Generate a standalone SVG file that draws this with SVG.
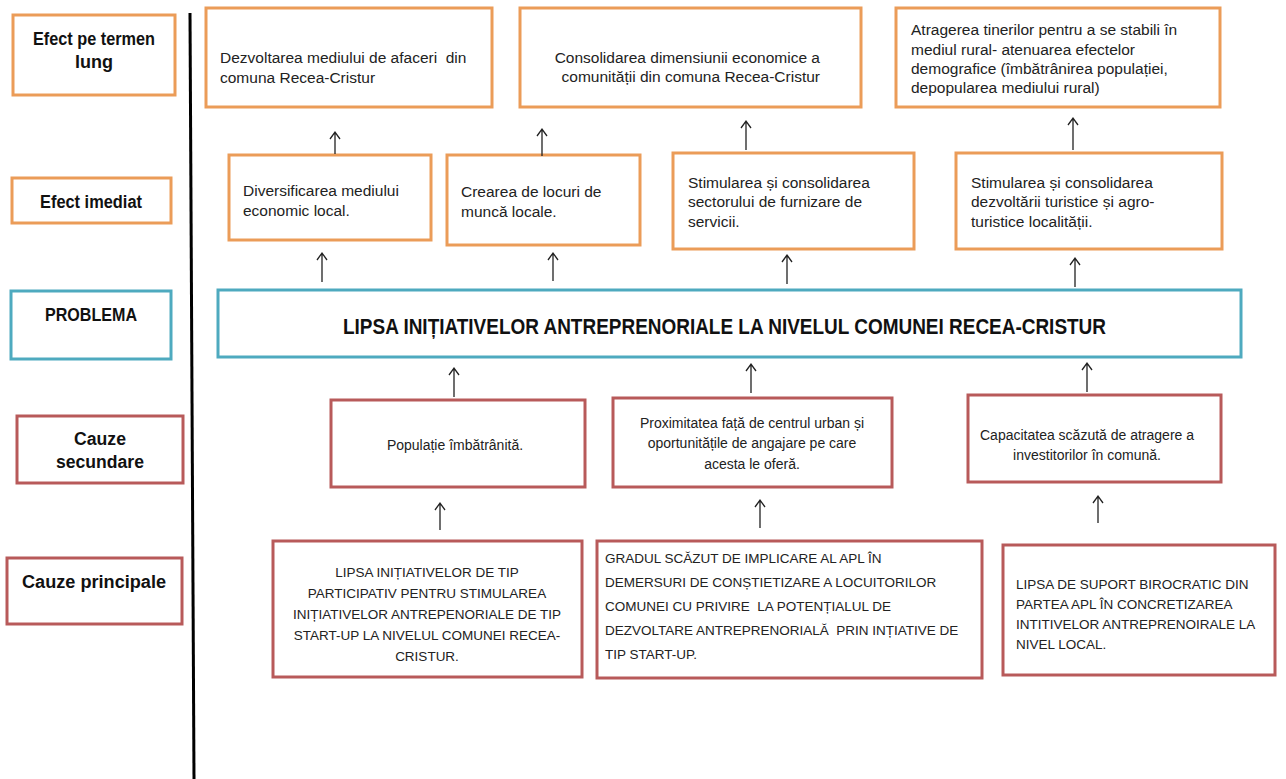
<svg xmlns="http://www.w3.org/2000/svg" width="1286" height="779" viewBox="0 0 1286 779">
<defs>
<style>
.or{fill:#fff;stroke:#eb9c58;stroke-width:3}
.tl{fill:#fff;stroke:#4eaabf;stroke-width:3}
.rd{fill:#fff;stroke:#b85a5a;stroke-width:3}
.lab{font-family:"Liberation Sans",Arial,sans-serif;font-weight:bold;font-size:18px;fill:#111;text-anchor:middle}
.t{font-family:"Liberation Sans",Arial,sans-serif;font-size:15.5px;fill:#222;white-space:pre}
.c{font-family:"Liberation Sans",Arial,sans-serif;font-size:14px;fill:#222;text-anchor:middle}
.u{font-family:"Liberation Sans",Arial,sans-serif;font-size:13.5px;fill:#222;white-space:pre}
.uc{font-family:"Liberation Sans",Arial,sans-serif;font-size:13.5px;fill:#222;text-anchor:middle}
.ttl{font-family:"Liberation Sans",Arial,sans-serif;font-weight:bold;font-size:22px;fill:#111}
.arr{stroke:#222;stroke-width:1.3;fill:none}
</style>
</defs>
<rect width="1286" height="779" fill="#fff"/>
<line x1="190" y1="13" x2="194" y2="779" stroke="#000" stroke-width="3"/>

<g id="label-efect-lung"><rect class="or" x="13" y="15" width="162" height="80"/><text class="lab" x="94" y="45" textLength="122" lengthAdjust="spacingAndGlyphs">Efect pe termen</text><text class="lab" x="94" y="68">lung</text></g>
<g id="label-efect-imediat"><rect class="or" x="12" y="178" width="159" height="45"/><text class="lab" x="91" y="208" textLength="102" lengthAdjust="spacingAndGlyphs">Efect imediat</text></g>
<g id="label-problema"><rect class="tl" x="11" y="291" width="160" height="68"/><text class="lab" x="91" y="321" textLength="92" lengthAdjust="spacingAndGlyphs">PROBLEMA</text></g>
<g id="label-cauze-sec"><rect class="rd" x="17" y="416" width="166" height="67"/><text class="lab" x="100" y="445" textLength="52" lengthAdjust="spacingAndGlyphs">Cauze</text><text class="lab" x="100" y="468" textLength="88" lengthAdjust="spacingAndGlyphs">secundare</text></g>
<g id="label-cauze-pr"><rect class="rd" x="7" y="558" width="175" height="66"/><text class="lab" x="94" y="588" textLength="144" lengthAdjust="spacingAndGlyphs">Cauze principale</text></g>

<g id="t1"><rect class="or" x="206" y="8" width="286" height="99"/><text class="t" x="220" y="63">Dezvoltarea mediului de afaceri  din</text><text class="t" x="220" y="83">comuna Recea-Cristur</text></g>
<g id="t2"><rect class="or" x="520" y="8" width="341" height="99"/><text class="t" x="820" y="63" text-anchor="end">Consolidarea dimensiunii economice a</text><text class="t" x="820" y="82" text-anchor="end">comunității din comuna Recea-Cristur</text></g>
<g id="t3"><rect class="or" x="896" y="8" width="324" height="99"/><text class="t" x="911" y="35">Atragerea tinerilor pentru a se stabili în</text><text class="t" x="911" y="55">mediul rural- atenuarea efectelor</text><text class="t" x="911" y="74">demografice (îmbătrânirea populației,</text><text class="t" x="911" y="93">depopularea mediului rural)</text></g>

<g id="e1"><rect class="or" x="229" y="155" width="202" height="85"/><text class="t" x="243" y="196">Diversificarea mediului</text><text class="t" x="243" y="216">economic local.</text></g>
<g id="e2"><rect class="or" x="447" y="155" width="193" height="90"/><text class="t" x="461" y="197">Crearea de locuri de</text><text class="t" x="461" y="217">muncă locale.</text></g>
<g id="e3"><rect class="or" x="673" y="153" width="241" height="96"/><text class="t" x="688" y="188">Stimularea și consolidarea</text><text class="t" x="688" y="207">sectorului de furnizare de</text><text class="t" x="688" y="227">servicii.</text></g>
<g id="e4"><rect class="or" x="956" y="153" width="266" height="96"/><text class="t" x="971" y="188">Stimularea și consolidarea</text><text class="t" x="971" y="207">dezvoltării turistice și agro-</text><text class="t" x="971" y="227">turistice localității.</text></g>

<g id="problema"><rect class="tl" x="218" y="290" width="1023" height="67"/><text class="ttl" x="343" y="334" textLength="763" lengthAdjust="spacingAndGlyphs">LIPSA INIȚIATIVELOR ANTREPRENORIALE LA NIVELUL COMUNEI RECEA-CRISTUR</text></g>

<g id="s1"><rect class="rd" x="331" y="400" width="254" height="87"/><text class="c" x="455" y="450">Populație îmbătrânită.</text></g>
<g id="s2"><rect class="rd" x="613" y="398" width="279" height="89"/><text class="c" x="752" y="428">Proximitatea față de centrul urban și</text><text class="c" x="752" y="448">oportunitățile de angajare pe care</text><text class="c" x="752" y="469">acesta le oferă.</text></g>
<g id="s3"><rect class="rd" x="968" y="395" width="253" height="87"/><text class="c" x="1087" y="440">Capacitatea scăzută de atragere a</text><text class="c" x="1087" y="460">investitorilor în comună.</text></g>

<g id="p1"><rect class="rd" x="273" y="541" width="309" height="136"/><text class="uc" x="427" y="577">LIPSA INIȚIATIVELOR DE TIP</text><text class="uc" x="427" y="598">PARTICIPATIV PENTRU STIMULAREA</text><text class="uc" x="427" y="619">INIȚIATIVELOR ANTREPENORIALE DE TIP</text><text class="uc" x="427" y="640">START-UP LA NIVELUL COMUNEI RECEA-</text><text class="uc" x="427" y="661">CRISTUR.</text></g>
<g id="p2"><rect class="rd" x="597" y="541" width="385" height="137"/><text class="u" x="605" y="563">GRADUL SCĂZUT DE IMPLICARE AL APL ÎN</text><text class="u" x="605" y="587">DEMERSURI DE CONȘTIETIZARE A LOCUITORILOR</text><text class="u" x="605" y="611">COMUNEI CU PRIVIRE  LA POTENȚIALUL DE</text><text class="u" x="605" y="635">DEZVOLTARE ANTREPRENORIALĂ  PRIN INȚIATIVE DE</text><text class="u" x="605" y="659">TIP START-UP.</text></g>
<g id="p3"><rect class="rd" x="1003" y="545" width="272" height="130"/><text class="u" x="1016" y="589">LIPSA DE SUPORT BIROCRATIC DIN</text><text class="u" x="1016" y="609">PARTEA APL ÎN CONCRETIZAREA</text><text class="u" x="1016" y="629">INTITIVELOR ANTREPRENOIRALE LA</text><text class="u" x="1016" y="649">NIVEL LOCAL.</text></g>

<g id="connectors" class="arr">
<path d="M335,154 V132 M330,139 L335,132 L340,139"/>
<path d="M542,156 V129 M537,136 L542,129 L547,136"/>
<path d="M746,150 V121 M741,128 L746,121 L751,128"/>
<path d="M1073,150 V118 M1068,125 L1073,118 L1078,125"/>
<path d="M322,282 V253 M317,260 L322,253 L327,260"/>
<path d="M553,281 V253 M548,260 L553,253 L558,260"/>
<path d="M787,284 V255 M782,262 L787,255 L792,262"/>
<path d="M1075,287 V258 M1070,265 L1075,258 L1080,265"/>
<path d="M454,397 V368 M449,375 L454,368 L459,375"/>
<path d="M751,393 V364 M746,371 L751,364 L756,371"/>
<path d="M1087,392 V363 M1082,370 L1087,363 L1092,370"/>
<path d="M440,530 V503 M435,510 L440,503 L445,510"/>
<path d="M760,528 V500 M755,507 L760,500 L765,507"/>
<path d="M1098,523 V496 M1093,503 L1098,496 L1103,503"/>
</g>
</svg>
